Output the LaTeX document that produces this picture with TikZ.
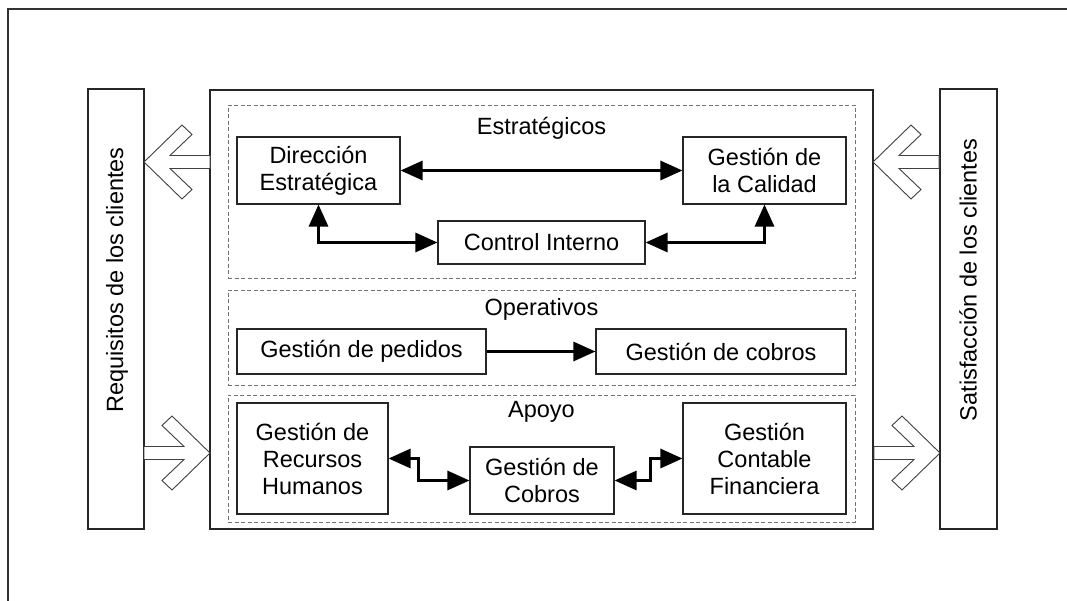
\documentclass[tikz,border=0pt]{standalone}
\usepackage{fontspec}
\setmainfont{Liberation Sans}
\usetikzlibrary{arrows.meta}
\begin{document}
\begin{tikzpicture}[x=1pt,y=-1pt,
  every node/.style={font=\fontsize{23.5}{27}\selectfont, align=center, inner sep=0pt},
  box/.style={draw=black!85, line width=1.1pt, fill=white},
  bigbox/.style={draw=black!85, line width=1.3pt},
  region/.style={draw=black!55, line width=0.9pt, dash pattern=on 4pt off 2.5pt},
  conn/.style={line width=3pt, black},
  biarr/.style={conn, {Triangle[length=22pt,width=19pt]}-{Triangle[length=22pt,width=19pt]}},
  onearr/.style={conn, -{Triangle[length=22pt,width=19pt]}},
  blockarrow/.style={draw=black!75, line width=0.9pt, fill=white, line join=miter}
]
\useasboundingbox (0,0) rectangle (1067,601);
% frame
\draw[black!80, line width=1.5pt] (1067,9) -- (8,9) -- (8,601);
% side boxes and main box
\node[bigbox, minimum width=56pt, minimum height=440pt] (req) at (116,309) {};
\node[bigbox, minimum width=57pt, minimum height=440pt] (sat) at (968.5,309) {};
\node[bigbox, minimum width=663pt, minimum height=439pt] (main) at (541.5,309.5) {};
\node[rotate=90] (reqt) at (117,280) {Requisitos de los clientes};
\node[rotate=90] (satt) at (968,280) {Satisfacción de los clientes};
% regions
\node[region, minimum width=627pt, minimum height=173pt] (estr) at (541.5,191.5) {};
\node[region, minimum width=627pt, minimum height=95pt] (oper) at (541.5,337.5) {};
\node[region, minimum width=627pt, minimum height=127pt] (apoy) at (541.5,458.5) {};
\node (estrt) at (541.5,128) {Estratégicos};
\node (opert) at (541.5,309) {Operativos};
\node (apoyt) at (541.5,412) {Apoyo};
% strategic
\node[box, minimum width=163pt, minimum height=67pt] (dir) at (318.5,170.5) {Dirección\\Estratégica};
\node[box, minimum width=163pt, minimum height=67pt] (cal) at (764.5,170.5) {Gestión de\\la Calidad};
\node[box, minimum width=207pt, minimum height=43pt] (ctl) at (541.5,242.5) {Control Interno};
% operative
\node[box, minimum width=249pt, minimum height=45pt] (ped) at (361.5,351.5) {Gestión de pedidos};
\node[box, minimum width=250pt, minimum height=45pt] (cob) at (721,351.5) {Gestión de cobros};
% support
\node[box, minimum width=151pt, minimum height=111pt] (rh) at (312.5,458.5) {Gestión de\\Recursos\\Humanos};
\node[box, minimum width=144pt, minimum height=67pt] (cb) at (542,480.5) {Gestión de\\Cobros};
\node[box, minimum width=163pt, minimum height=111pt] (con) at (764.5,458.5) {Gestión\\Contable\\Financiera};
% connectors
\draw[biarr] (dir) -- (cal);
\draw[biarr] (dir.south) |- (ctl.west);
\draw[biarr] (ctl.east) -| (cal.south);
\draw[onearr] (ped) -- (cob);
\draw[biarr] (rh.east) -- ++(30,0) |- (cb.west);
\draw[biarr] (cb.east) -- ++(36,0) |- (con.west);
% block arrows
\foreach \tx/\ty/\sx in {144/162/1, 873/162/1, 210/453/-1, 940/453/-1}{
  \draw[blockarrow, shift={(\tx,\ty)}, xscale=\sx]
    (0,0) -- (38,-37) -- (48,-27.5) -- (26,-6.5) -- (66,-6.5) -- (66,6.5)
    -- (26,6.5) -- (48,27.5) -- (38,37) -- cycle;
}
\end{tikzpicture}
\end{document}
